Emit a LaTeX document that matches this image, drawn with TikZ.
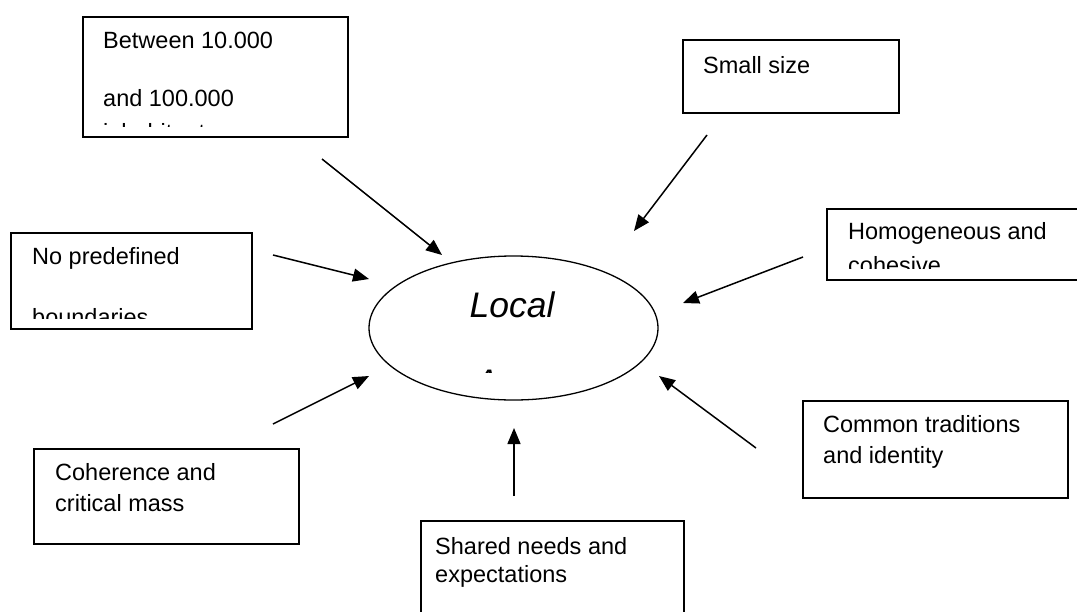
\documentclass[tikz,border=0pt]{standalone}
\usepackage{fontspec}
\setmainfont{Liberation Sans}
\usetikzlibrary{arrows.meta,shapes.geometric}

\begin{document}
\begin{tikzpicture}[x=1pt,y=-1pt,
  frame/.style={draw,line width=1.7pt,anchor=north west,inner sep=0pt},
  txt/.style={anchor=base west,inner sep=0pt,font=\fontsize{23.5}{28}\selectfont},
  link/.style={line width=1.5pt,-{Triangle[length=16pt,width=13pt]}}]
\useasboundingbox (0,0) rectangle (1077,611);
\clip (0,0) rectangle (1077,611);

% text boxes
\node[frame,minimum width=265pt,minimum height=120pt] (b1) at (82,16) {};
\node[frame,minimum width=216pt,minimum height=73pt] (b2) at (682,39) {};
\node[frame,minimum width=264pt,minimum height=71pt] (b3) at (826,208) {};
\node[frame,minimum width=241pt,minimum height=96pt] (b4) at (10,232) {};
\node[frame,minimum width=265pt,minimum height=95pt] (b5) at (33,448) {};
\node[frame,minimum width=265pt,minimum height=97pt] (b6) at (802,400) {};
\node[frame,minimum width=263pt,minimum height=105pt] (b7) at (420,520) {};

% central ellipse
\node[draw,ellipse,line width=1.3pt,minimum width=289pt,minimum height=144pt] (core) at (513.5,328) {};

% box texts
\node[txt] (t1a) at (103,48) {Between 10.000};
\node[txt] (t1b) at (103,106) {and 100.000};
\begin{scope}
  \clip (90,110) rectangle (340,126);
  \node[txt] (t1c) at (103,140) {inhabitants};
\end{scope}
\node[txt] (t2a) at (703,73) {Small size};
\node[txt] (t3a) at (848,239) {Homogeneous and};
\begin{scope}
  \clip (835,245) rectangle (1077,268);
  \node[txt] (t3b) at (848,273) {cohesive};
\end{scope}
\node[txt] (t4a) at (32,264) {No predefined};
\begin{scope}
  \clip (20,285) rectangle (245,318);
  \node[txt] (t4b) at (32,325) {boundaries};
\end{scope}
\node[txt] (t5a) at (55,480) {Coherence and};
\node[txt] (t5b) at (55,511) {critical mass};
\node[txt] (t6a) at (823,432) {Common traditions};
\node[txt] (t6b) at (823,463) {and identity};
\node[txt] (t7a) at (435,554) {Shared needs and};
\node[txt] (t7b) at (435,582) {expectations};

% ellipse text
\node[anchor=base,inner sep=0pt,font=\fontsize{35.5}{42}\selectfont\itshape] (c1) at (512,317) {Local};
\begin{scope}
  \clip (400,330) rectangle (630,372);
  \node[anchor=base,inner sep=0pt,font=\fontsize{35.5}{42}\selectfont\itshape] (c2) at (512,394) {Area};
\end{scope}

% arrow ends
\coordinate (s1) at (322,159);  \coordinate (e1) at (442,255);
\coordinate (s2) at (707,135);  \coordinate (e2) at (634,231);
\coordinate (s3) at (803,257);  \coordinate (e3) at (683,303);
\coordinate (s4) at (273,255);  \coordinate (e4) at (369,279);
\coordinate (s5) at (273,424);  \coordinate (e5) at (369,376);
\coordinate (s6) at (756,448);  \coordinate (e6) at (659,376);
\coordinate (s7) at (514,496);  \coordinate (e7) at (514,428);

\foreach \i in {1,...,7} \draw[link] (s\i) -- (e\i);
\end{tikzpicture}
\end{document}
